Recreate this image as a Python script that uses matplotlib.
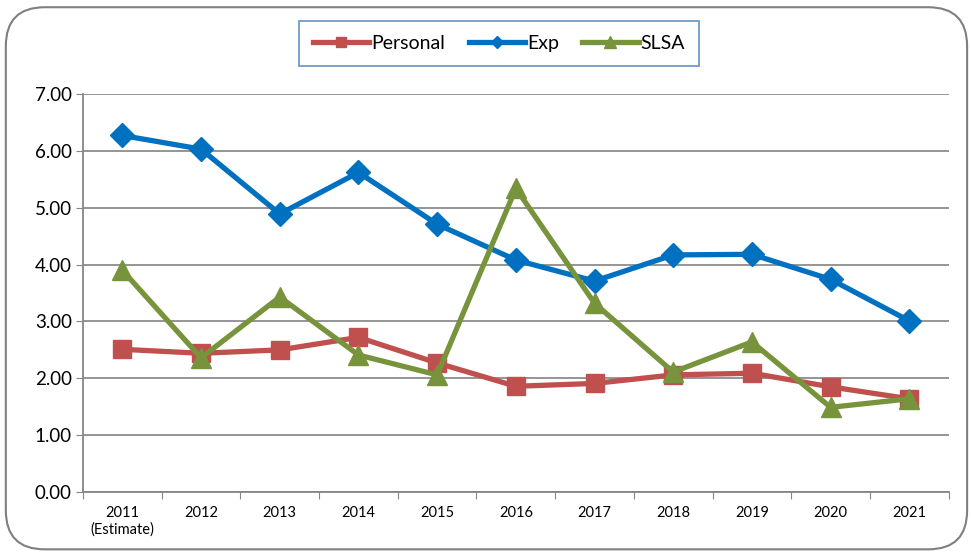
import matplotlib.pyplot as plt
from matplotlib.patches import FancyBboxPatch

# Data
years = ['2011\n(Estimate)', '2012', '2013', '2014', '2015', '2016',
         '2017', '2018', '2019', '2020', '2021']
personal = [2.51, 2.44, 2.50, 2.72, 2.27, 1.86, 1.91, 2.06, 2.09, 1.85, 1.64]
exp = [6.27, 6.03, 4.89, 5.62, 4.71, 4.08, 3.71, 4.17, 4.18, 3.74, 3.01]
slsa = [3.90, 2.36, 3.43, 2.41, 2.06, 5.34, 3.32, 2.11, 2.64, 1.49, 1.64]
yticks = [0, 1, 2, 3, 4, 5, 6, 7]

plt.rcParams['font.family'] = ['Lato', 'DejaVu Sans']

fig = plt.figure(figsize=(9.71, 5.56), dpi=100)
fig.patch.set_facecolor('white')

# rounded chart-area border
frame = FancyBboxPatch((0.006, 0.012), 0.99, 0.975,
                       boxstyle='round,pad=0,rounding_size=0.04',
                       transform=fig.transFigure, facecolor='none',
                       edgecolor='#7f7f7f', linewidth=1.5, mutation_aspect=1.75,
                       zorder=5)
fig.patches.append(frame)

ax = fig.add_axes([0.0855, 0.115, 0.8915, 0.716])
ax.patch.set_alpha(0)
x = list(range(len(years)))

ax.plot(x, personal, color='#C0504D', lw=3.8, marker='s', ms=13, label='Personal')
ax.plot(x, exp, color='#0070C0', lw=3.8, marker='D', ms=12, label='Exp')
ax.plot(x, slsa, color='#77933C', lw=3.8, marker='^', ms=15, label='SLSA')

ax.set_xlim(-0.5, len(years) - 0.5)
ax.set_ylim(0, 7)
ax.set_yticks(yticks)
ax.set_yticklabels([f'{v:.2f}' for v in yticks], fontsize=13.5)
ax.set_xticks([i - 0.5 for i in range(len(years) + 1)])
ax.set_xticklabels([])
ax.set_xticks(x, minor=True)
ax.set_xticklabels(years, minor=True, fontsize=10.5)
ax.tick_params(axis='x', which='minor', length=0, pad=10)
ax.tick_params(axis='x', which='major', length=5, color='#868686')
ax.tick_params(axis='y', length=5, color='#868686', pad=3)

ax.grid(axis='y', color='#8c8c8c', lw=1.3)
ax.set_axisbelow(True)
for s in ['top', 'right']:
    ax.spines[s].set_visible(False)
for s in ['left', 'bottom']:
    ax.spines[s].set_color('#868686')
    ax.spines[s].set_linewidth(1.3)

leg = fig.legend(loc='center', bbox_to_anchor=(0.514, 0.922), ncol=3,
                 fontsize=14, frameon=True, fancybox=False,
                 handlelength=2.9, handletextpad=0.1, columnspacing=1.2,
                 markerscale=0.55, borderpad=0.72, borderaxespad=0)
leg.get_frame().set_edgecolor('#4F81BD')
leg.get_frame().set_linewidth(1.3)

fig.savefig('out.png', dpi=100)
